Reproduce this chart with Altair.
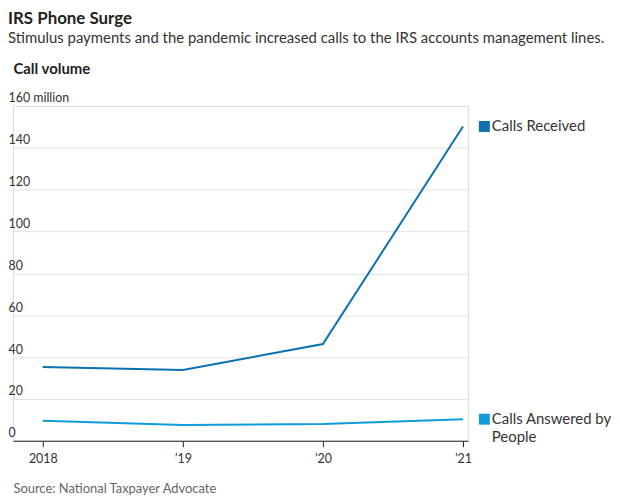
import altair as alt
import pandas as pd

years = [2018, 2019, 2020, 2021]
series_names = ["Calls Received", "Calls Answered by People"]
received = [35.3, 33.8, 46.2, 150.2]
answered = [9.6, 7.5, 8.0, 10.3]
legend_labels = ["Calls Received", "Calls Answered by\nPeople"]
colors = ["#0a72b0", "#0f9bdc"]
y_ticks = [0, 20, 40, 60, 80, 100, 120, 140, 160]

FONT = "Lato"

rows = []
for y, v in zip(years, received):
    rows.append({"year": y, "value": v, "series": series_names[0]})
for y, v in zip(years, answered):
    rows.append({"year": y, "value": v, "series": series_names[1]})
df = pd.DataFrame(rows)

end = pd.DataFrame({
    "year": [years[-1], years[-1]],
    "value": [received[-1], answered[-1]],
    "series": series_names,
    "label": legend_labels,
})

W, H = 458, 337
px_per_year = (W - 35) / 3
xdom = [2018 - 30 / px_per_year, 2021 + 5 / px_per_year]

color = alt.Color("series:N", scale=alt.Scale(domain=series_names, range=colors), legend=None)

x = alt.X(
    "year:Q",
    scale=alt.Scale(domain=xdom, nice=False, zero=False),
    axis=alt.Axis(
        values=years,
        labelExpr="datum.value == 2018 ? '2018' : '\u2019' + slice(toString(datum.value), 2)",
        grid=False,
        domainColor="#222",
        tickColor="#222",
        tickSize=6,
        labelFont=FONT,
        labelFontSize=12.5,
        labelColor="#333",
        labelPadding=6,
        title="Source: National Taxpayer Advocate",
        titleFont=FONT,
        titleFontSize=13,
        titleFontWeight="normal",
        titleColor="#666",
        titleAnchor="start",
        titleAlign="left",
        titleX=0,
        titleY=42,
    ),
)

y = alt.Y(
    "value:Q",
    scale=alt.Scale(domain=[0, 160], nice=False),
    axis=alt.Axis(
        values=y_ticks,
        labelExpr="datum.value == 160 ? '160 million' : datum.label",
        orient="left",
        domain=False,
        ticks=False,
        gridColor="#e2e2e2",
        labelAlign="left",
        labelBaseline="alphabetic",
        labelPadding=5,
        labelOffset=-4,
        labelFont=FONT,
        labelFontSize=12.5,
        labelColor="#333",
        title="Call volume",
        titleFont=FONT,
        titleFontSize=15,
        titleFontWeight="bold",
        titleColor="#222",
        titleAngle=0,
        titleAlign="left",
        titleBaseline="alphabetic",
        titleX=0,
        titleY=-33,
    ),
)

lines = alt.Chart(df).mark_line(strokeWidth=2).encode(x=x, y=y, color=color, detail="series:N")

squares = alt.Chart(end).mark_square(size=121, opacity=1, xOffset=21.5).encode(
    x="year:Q", y="value:Q", color=color
)

labels = alt.Chart(end).mark_text(
    align="left", baseline="alphabetic", dx=29, dy=5, font=FONT, fontSize=15,
    color="#333", lineBreak="\n", lineHeight=18
).encode(x="year:Q", y="value:Q", text="label:N")

chart = alt.layer(lines, squares, labels).properties(
    width=W,
    height=H,
    title=alt.TitleParams(
        text="IRS Phone Surge",
        subtitle="Stimulus payments and the pandemic increased calls to the IRS accounts management lines.",
        anchor="start",
        font=FONT,
        fontSize=17,
        fontWeight="bold",
        color="#222",
        subtitleFont=FONT,
        subtitleFontSize=15,
        subtitleColor="#333",
        subtitlePadding=4,
        offset=14,
    ),
).configure_view(stroke=None).configure(padding={"left": 0, "top": 0, "right": 0, "bottom": 0})

chart.save("out.html", embed_options={"renderer": "svg", "actions": False})
